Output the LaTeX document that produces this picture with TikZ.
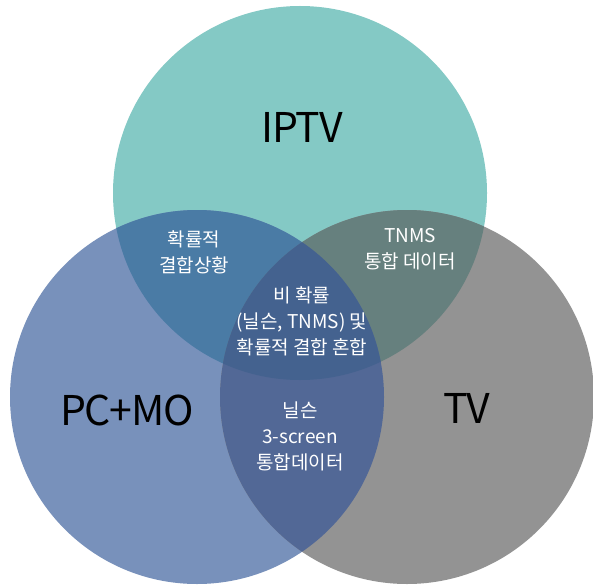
\documentclass[tikz,border=0pt]{standalone}
\usepackage{fontspec}
\setmainfont{Noto Sans CJK KR}
\newfontfamily\bigfont[LetterSpace=-3]{Noto Sans CJK KR}
\usepackage{tikz}
\usetikzlibrary{positioning}

\definecolor{IptvTeal}{HTML}{84C9C5}
\definecolor{PcmoBlue}{HTML}{7891BB}
\definecolor{TvGray}{HTML}{939393}
\definecolor{IptvPcmo}{HTML}{4A7BA5}
\definecolor{IptvTv}{HTML}{66807E}
\definecolor{PcmoTv}{HTML}{526896}
\definecolor{AllThree}{HTML}{44628F}
\newcommand{\rad}{187pt}

\begin{document}
\begin{tikzpicture}[
    x=1pt, y=-1pt,
    setname/.style={font=\bigfont\fontsize{41}{41}\selectfont, text=black, inner sep=0pt},
    overlap/.style={font=\fontsize{19}{26}\selectfont, text=white, align=center, inner sep=0pt}]

    \useasboundingbox (0,0) rectangle (593,585);

    \coordinate (iptv) at (300,193);
    \coordinate (pcmo) at (197,397);
    \coordinate (tv) at (407,397);

    % the three sets
    \fill[IptvTeal] (iptv) circle (\rad);
    \fill[PcmoBlue] (pcmo) circle (\rad);
    \fill[TvGray] (tv) circle (\rad);

    % pairwise overlaps
    \begin{scope}
        \clip (iptv) circle (\rad);
        \fill[IptvPcmo] (pcmo) circle (\rad);
        \fill[IptvTv] (tv) circle (\rad);
    \end{scope}
    \begin{scope}
        \clip (pcmo) circle (\rad);
        \fill[PcmoTv] (tv) circle (\rad);
    \end{scope}

    % centre
    \begin{scope}
        \clip (iptv) circle (\rad);
        \clip (pcmo) circle (\rad);
        \fill[AllThree] (tv) circle (\rad);
    \end{scope}

    \node[setname] (iptvlabel) at (302,127) {IPTV};
    \node[setname] (pcmolabel) at (127,410) {PC+MO};
    \node[setname] (tvlabel) at (467,408) {TV};

    \node[overlap] (iptvpcmo) at (194,252) {확률적\\결합상황};
    \node[overlap] (iptvtv) at (410,249) {TNMS\\통합 데이터};
    \node[overlap] (allthree) at (302,321) {비 확률\\(닐슨, TNMS) 및\\확률적 결합 혼합};
    \node[overlap] (pcmotv) at (300,436) {닐슨\\3-screen\\통합데이터};

\end{tikzpicture}
\end{document}
